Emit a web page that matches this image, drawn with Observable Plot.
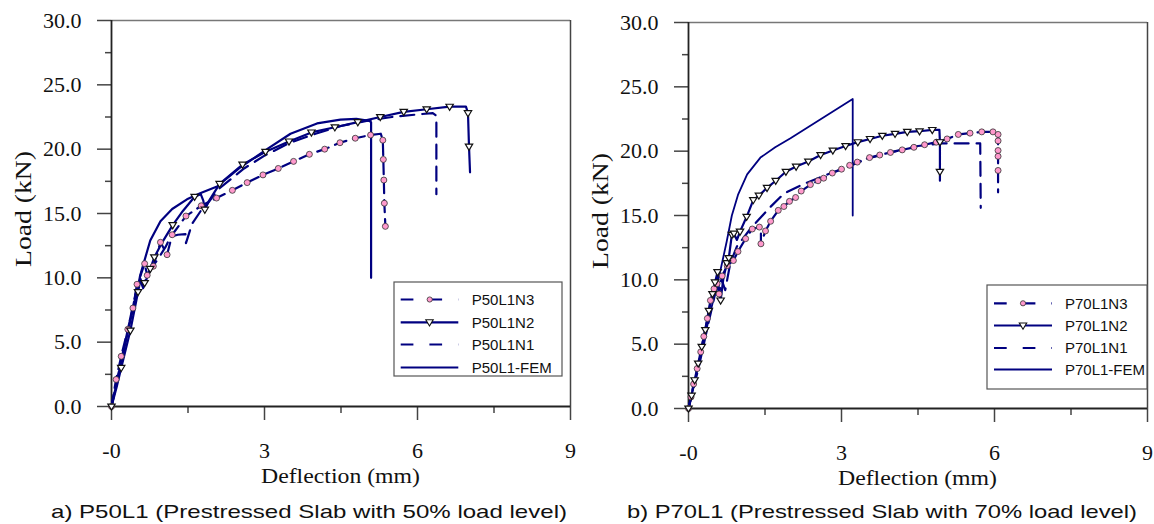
<!DOCTYPE html>
<html><head><meta charset="utf-8">
<script src="https://cdn.jsdelivr.net/npm/d3@7"></script>
<script src="https://cdn.jsdelivr.net/npm/@observablehq/plot@0.6"></script>
<style>
html,body{margin:0;padding:0;background:#fff;}
#root{position:relative;width:1154px;height:524px;overflow:hidden;background:#fff;}
#root > svg{position:absolute;top:0;}
</style>
</head><body><div id="root"></div>
<script>
// ---------------- DATA ----------------
// Axis ticks
const xMajor = [0, 3, 6, 9];
const xMinor = [1.5, 4.5, 7.5];
const yMajor = [0, 5, 10, 15, 20, 25, 30];
const yMinor = [2.5, 7.5, 12.5, 17.5, 22.5, 27.5];

// Series names
const namesL = ["P50L1N3", "P50L1N2", "P50L1N1", "P50L1-FEM"];
const namesR = ["P70L1N3", "P70L1N2", "P70L1N1", "P70L1-FEM"];
const captions = ["a) P50L1 (Prestressed Slab with 50% load level)", "b) P70L1 (Prestressed Slab with 70% load level)"];

// ----- Panel a) P50L1 -----
const femLX = [0, 0.2, 0.4, 0.57, 0.76, 0.96, 1.19, 1.48, 1.75, 2.07, 2.5, 3.05, 3.51, 4.03, 4.49, 4.8, 5.05, 5.09, 5.09];
const femLY = [0, 3.6, 7.2, 10.3, 12.9, 14.4, 15.35, 16.1, 16.6, 17.1, 18.5, 20.0, 21.2, 22.0, 22.3, 22.35, 22.2, 22.1, 10.0];

const n2LX = [0, 0.1, 0.19, 0.37, 0.52, 0.57, 0.62, 0.66, 0.76, 0.84, 1.0, 1.2, 1.4, 1.63, 1.75, 1.8, 1.83, 1.9, 2.12, 2.57, 3.02, 3.48, 3.92, 4.38, 4.83, 5.27, 5.73, 6.18, 6.63, 6.95, 6.99, 7.01, 7.03];
const n2LY = [0, 1.5, 3.0, 5.9, 8.9, 9.9, 9.2, 9.6, 10.7, 11.6, 12.8, 14.1, 15.2, 16.3, 16.5, 16.0, 15.3, 15.9, 17.3, 18.8, 19.8, 20.6, 21.3, 21.7, 22.1, 22.5, 22.9, 23.1, 23.3, 23.3, 22.8, 20.2, 18.2];
const n2LMX = [0, 0.19, 0.37, 0.52, 0.65, 0.76, 0.84, 1.2, 1.63, 1.83, 2.12, 2.57, 3.02, 3.48, 3.92, 4.38, 4.83, 5.27, 5.73, 6.18, 6.63, 6.99, 7.01];
const n2LMY = [0, 3.0, 5.9, 8.9, 9.6, 10.7, 11.6, 14.1, 16.3, 15.3, 17.3, 18.8, 19.8, 20.6, 21.3, 21.7, 22.1, 22.5, 22.9, 23.1, 23.3, 22.8, 20.2];

const n3LX = [0, 0.09, 0.19, 0.32, 0.42, 0.5, 0.58, 0.65, 0.7, 0.82, 0.96, 1.09, 1.19, 1.46, 1.76, 2.06, 2.37, 2.66, 2.97, 3.27, 3.57, 3.88, 4.18, 4.48, 4.78, 5.08, 5.28, 5.32, 5.33, 5.34, 5.35, 5.37];
const n3LY = [0, 2.1, 3.9, 6.0, 7.65, 9.5, 10.3, 11.1, 10.2, 10.9, 12.76, 11.8, 13.35, 14.8, 15.6, 16.2, 16.8, 17.4, 18.0, 18.5, 19.05, 19.6, 20.0, 20.5, 20.85, 21.1, 21.2, 20.7, 19.2, 17.6, 15.8, 14.0];
const n3LMX = [0, 0.09, 0.19, 0.32, 0.42, 0.5, 0.65, 0.7, 0.82, 0.96, 1.09, 1.19, 1.46, 1.76, 2.06, 2.37, 2.66, 2.97, 3.27, 3.57, 3.88, 4.18, 4.48, 4.78, 5.08, 5.32, 5.33, 5.34, 5.35, 5.37];
const n3LMY = [0, 2.1, 3.9, 6.0, 7.65, 9.5, 11.1, 10.2, 10.9, 12.76, 11.8, 13.35, 14.8, 15.6, 16.2, 16.8, 17.4, 18.0, 18.5, 19.05, 19.6, 20.0, 20.5, 20.85, 21.1, 20.7, 19.2, 17.6, 15.8, 14.0];

const n1LX = [0, 0.15, 0.3, 0.45, 0.55, 0.62, 0.72, 0.9, 1.06, 1.16, 1.3, 1.45, 1.46, 1.58, 1.75, 1.85, 2.1, 2.6, 3.0, 3.5, 4.0, 4.5, 5.0, 5.5, 6.0, 6.3, 6.37, 6.37];
const n1LY = [0, 2.8, 5.6, 8.4, 9.9, 9.3, 10.4, 11.4, 12.4, 13.2, 13.35, 13.4, 12.7, 14.2, 15.2, 15.6, 16.9, 18.5, 19.5, 20.5, 21.2, 21.8, 22.2, 22.5, 22.7, 22.8, 22.6, 16.5];

// ----- Panel b) P70L1 -----
const femRX = [0, 0.4, 0.63, 0.75, 0.85, 0.97, 1.15, 1.41, 1.7, 2.0, 3.22, 3.22];
const femRY = [0, 7.0, 10.8, 13.0, 15.0, 16.6, 18.2, 19.5, 20.3, 21.0, 24.05, 15.0];

const n2RX = [0, 0.06, 0.12, 0.19, 0.26, 0.33, 0.40, 0.47, 0.52, 0.57, 0.6, 0.63, 0.68, 0.75, 0.79, 0.85, 0.89, 0.95, 1.01, 1.14, 1.27, 1.38, 1.54, 1.71, 1.91, 2.11, 2.35, 2.59, 2.83, 3.08, 3.32, 3.56, 3.80, 4.05, 4.29, 4.53, 4.78, 4.92, 4.93, 4.93];
const n2RY = [0, 1.0, 2.2, 3.5, 4.8, 6.1, 7.6, 8.9, 9.8, 10.6, 9.0, 8.4, 10.0, 11.3, 11.7, 13.5, 13.6, 13.1, 13.75, 14.9, 16.2, 16.55, 17.15, 17.7, 18.4, 18.8, 19.2, 19.7, 20.05, 20.4, 20.7, 20.95, 21.2, 21.35, 21.5, 21.55, 21.65, 21.65, 20.7, 17.7];
const n2RMX = [0, 0.06, 0.12, 0.19, 0.26, 0.33, 0.40, 0.47, 0.52, 0.57, 0.63, 0.75, 0.79, 0.85, 0.89, 1.01, 1.14, 1.27, 1.38, 1.54, 1.71, 1.91, 2.11, 2.35, 2.59, 2.83, 3.08, 3.32, 3.56, 3.80, 4.05, 4.29, 4.53, 4.78, 4.93, 4.93];
const n2RMY = [0, 1.0, 2.2, 3.5, 4.8, 6.1, 7.6, 8.9, 9.8, 10.6, 8.4, 11.3, 11.7, 13.5, 13.6, 13.75, 14.9, 16.2, 16.55, 17.15, 17.7, 18.4, 18.8, 19.2, 19.7, 20.05, 20.4, 20.7, 20.95, 21.2, 21.35, 21.5, 21.55, 21.65, 20.7, 18.4];

const n3RX = [0, 0.05, 0.1, 0.17, 0.24, 0.3, 0.37, 0.43, 0.5, 0.56, 0.6, 0.66, 0.76, 0.88, 0.97, 1.12, 1.25, 1.39, 1.42, 1.42, 1.51, 1.61, 1.76, 1.87, 1.98, 2.10, 2.21, 2.39, 2.54, 2.65, 2.82, 3.0, 3.16, 3.31, 3.55, 3.75, 3.96, 4.19, 4.42, 4.63, 4.86, 5.07, 5.29, 5.52, 5.75, 5.97, 6.07, 6.07, 6.07, 6.07, 6.07, 6.07];
const n3RY = [0, 0.9, 1.9, 3.1, 4.4, 5.6, 7.0, 8.4, 9.3, 9.7, 8.9, 10.3, 11.1, 11.5, 12.2, 13.2, 13.95, 14.1, 14.0, 12.8, 13.8, 14.55, 15.4, 15.7, 16.1, 16.4, 16.9, 17.4, 17.7, 17.9, 18.3, 18.6, 18.9, 19.15, 19.5, 19.7, 19.9, 20.1, 20.3, 20.5, 20.7, 20.95, 21.3, 21.4, 21.5, 21.5, 21.3, 20.8, 20.05, 19.6, 18.5, 16.8];
const n3RMX = [0, 0.05, 0.1, 0.17, 0.24, 0.3, 0.37, 0.43, 0.5, 0.56, 0.6, 0.66, 0.76, 0.88, 0.97, 1.12, 1.25, 1.39, 1.42, 1.51, 1.61, 1.76, 1.87, 1.98, 2.10, 2.21, 2.39, 2.54, 2.65, 2.82, 3.0, 3.16, 3.31, 3.55, 3.75, 3.96, 4.19, 4.42, 4.63, 4.86, 5.07, 5.29, 5.52, 5.75, 5.97, 6.07, 6.07, 6.07, 6.07, 6.07];
const n3RMY = [0, 0.9, 1.9, 3.1, 4.4, 5.6, 7.0, 8.4, 9.3, 9.7, 8.9, 10.3, 11.1, 11.5, 12.2, 13.2, 13.95, 14.1, 12.8, 13.8, 14.55, 15.4, 15.7, 16.1, 16.4, 16.9, 17.4, 17.7, 17.9, 18.3, 18.6, 18.9, 19.15, 19.5, 19.7, 19.9, 20.1, 20.3, 20.5, 20.7, 20.95, 21.3, 21.4, 21.5, 21.5, 21.3, 20.8, 20.05, 19.6, 18.5];

const n1RX = [0, 0.2, 0.4, 0.55, 0.65, 0.72, 0.82, 0.95, 1.22, 1.59, 1.87, 2.23, 2.6, 3.0, 3.5, 4.0, 4.5, 4.95, 5.4, 5.72, 5.73];
const n1RY = [0, 3.2, 6.8, 9.4, 10.0, 9.2, 11.3, 12.6, 14.0, 15.6, 16.7, 17.4, 18.0, 18.6, 19.4, 19.95, 20.4, 20.6, 20.6, 20.6, 15.6];

// ---------------- STYLE ----------------
const NAVY = "#000080";
const PINK = "#ff99cc";
const SERIF = "'Liberation Serif','Times New Roman',serif";
const SANS = "'Liberation Sans',Arial,sans-serif";
const DASH_N1 = "14,8";
const DASH_N3 = "12,7";

const pts = (xs, ys) => xs.map((x, i) => ({x, y: ys[i]}));

// downward pointing triangle symbol
const triDown = {
  draw(context, size) {
    const r = Math.sqrt(size / Math.PI);
    const w = r * 1.15, h = r * 1.9;
    context.moveTo(-w, -h * 0.4);
    context.lineTo(w, -h * 0.4);
    context.lineTo(0, h * 0.6);
    context.closePath();
  }
};

function panel(s) {
  const H = 490, PH = 386;
  return Plot.plot({
    width: 577, height: H,
    marginLeft: 111, marginRight: 7, marginTop: s.mt, marginBottom: H - s.mt - PH,
    x: {domain: [0, 9]},
    y: {domain: [0, 30]},
    style: {fontFamily: SERIF, fontSize: "22px", color: "#111", background: "transparent", overflow: "visible"},
    marks: [
      Plot.ruleY([30], {stroke: "#777", strokeWidth: 1.5}),
      Plot.ruleX([9], {stroke: "#444", strokeWidth: 1.5}),
      Plot.axisY({ticks: yMinor, tickSize: 6, tickFormat: () => "", label: null, stroke: "#444", strokeWidth: 1.5}),
      Plot.axisY({ticks: yMajor, tickSize: 14, tickPadding: 16, tickFormat: d3.format(".1f"), label: null, stroke: "#444", strokeWidth: 1.5}),
      Plot.axisX({ticks: xMinor, tickSize: 7, tickFormat: () => "", label: null, stroke: "#444", strokeWidth: 1.5}),
      Plot.axisX({ticks: xMajor, tickSize: 14, tickPadding: 22, tickFormat: d => d === 0 ? "-0" : String(d), label: null, stroke: "#444", strokeWidth: 1.5}),
      Plot.ruleX([0], {stroke: "#222", strokeWidth: 1.8}),
      Plot.ruleY([0], {stroke: "#222", strokeWidth: 1.8}),
      Plot.line(s.fem, {x: "x", y: "y", stroke: NAVY, strokeWidth: s.femW}),
      Plot.line(s.n1, {x: "x", y: "y", stroke: NAVY, strokeWidth: 2.2, strokeDasharray: DASH_N1}),
      Plot.line(s.n3, {x: "x", y: "y", stroke: NAVY, strokeWidth: 2.2, strokeDasharray: DASH_N3}),
      Plot.line(s.n2, {x: "x", y: "y", stroke: NAVY, strokeWidth: 2.2}),
      Plot.dot(s.n3m, {x: "x", y: "y", r: 3, fill: PINK, stroke: "#333", strokeWidth: 0.8}),
      Plot.dot(s.n2m, {x: "x", y: "y", r: 3.2, symbol: triDown, fill: "white", stroke: "#111", strokeWidth: 1.2})
    ]
  });
}

const root = document.getElementById("root");

const left = panel({
  mt: 20, femW: 2.2,
  fem: pts(femLX, femLY), n1: pts(n1LX, n1LY), n2: pts(n2LX, n2LY), n3: pts(n3LX, n3LY),
  n2m: pts(n2LMX, n2LMY), n3m: pts(n3LMX, n3LMY)
});
left.style.left = "0px";
root.appendChild(left);

const right = panel({
  mt: 22, femW: 1.8,
  fem: pts(femRX, femRY), n1: pts(n1RX, n1RY), n2: pts(n2RX, n2RY), n3: pts(n3RX, n3RY),
  n2m: pts(n2RMX, n2RMY), n3m: pts(n3RMX, n3RMY)
});
right.style.left = "577px";
root.appendChild(right);

// ---------------- OVERLAY: titles, legends, captions ----------------
const ov = d3.create("svg").attr("width", 1154).attr("height", 524)
  .style("position", "absolute").style("left", "0px").style("top", "0px");

function axisTitles(ox, plotTop) {
  const cx = ox + 111 + 459 / 2;
  const bottom = plotTop + 386;
  ov.append("text").attr("x", cx).attr("y", bottom + 77).attr("text-anchor", "middle")
    .attr("font-family", SERIF).attr("font-size", 20).attr("fill", "#111")
    .attr("textLength", 159).attr("lengthAdjust", "spacingAndGlyphs")
    .text("Deflection (mm)");
  ov.append("text").attr("transform", `translate(${ox + 31},${plotTop + 189}) rotate(-90)`)
    .attr("text-anchor", "middle").attr("font-family", SERIF).attr("font-size", 23).attr("fill", "#111")
    .attr("textLength", 116).attr("lengthAdjust", "spacingAndGlyphs")
    .text("Load (kN)");
}
axisTitles(0, 20);
axisTitles(577, 22);

function legend(x0, y0, w, h, rows, sx0, sx1, tx, names) {
  const g = ov.append("g");
  g.append("rect").attr("x", x0).attr("y", y0).attr("width", w).attr("height", h)
    .attr("fill", "white").attr("stroke", "#555").attr("stroke-width", 1.2);
  const mid = (sx0 + sx1) / 2;
  names.forEach((name, i) => {
    const y = rows[i];
    const line = g.append("line").attr("x1", sx0).attr("x2", sx1).attr("y1", y).attr("y2", y)
      .attr("stroke", NAVY).attr("stroke-width", 2.2);
    if (i === 0 || i === 2) line.attr("stroke-dasharray", "12.7,16");
    if (i === 0) {
      g.append("circle").attr("cx", sx0 + 29).attr("cy", y).attr("r", 2.6)
        .attr("fill", PINK).attr("stroke", "#333").attr("stroke-width", 0.8);
    }
    if (i === 1) {
      g.append("path").attr("d", `M${mid - 3.7},${y - 2.5}L${mid + 3.7},${y - 2.5}L${mid},${y + 3.7}Z`)
        .attr("fill", "white").attr("stroke", "#111").attr("stroke-width", 1.1);
    }
    g.append("text").attr("x", tx).attr("y", y).attr("dy", "0.36em")
      .attr("font-family", SANS).attr("font-size", 15).attr("fill", "#111").text(name);
  });
}
legend(394, 282, 168, 94, [299.5, 322.3, 344.5, 367.5], 400.7, 458.3, 471.7, namesL);
legend(987, 285, 160, 104, [303.3, 325.5, 348, 369.5], 994, 1052, 1065, namesR);

function caption(x, w, text) {
  ov.append("text").attr("x", x).attr("y", 518)
    .attr("font-family", SANS).attr("font-size", 19).attr("fill", "#111")
    .attr("textLength", w).attr("lengthAdjust", "spacingAndGlyphs")
    .text(text);
}
caption(51, 516, captions[0]);
caption(627, 510, captions[1]);

root.appendChild(ov.node());
</script>
</body></html>
